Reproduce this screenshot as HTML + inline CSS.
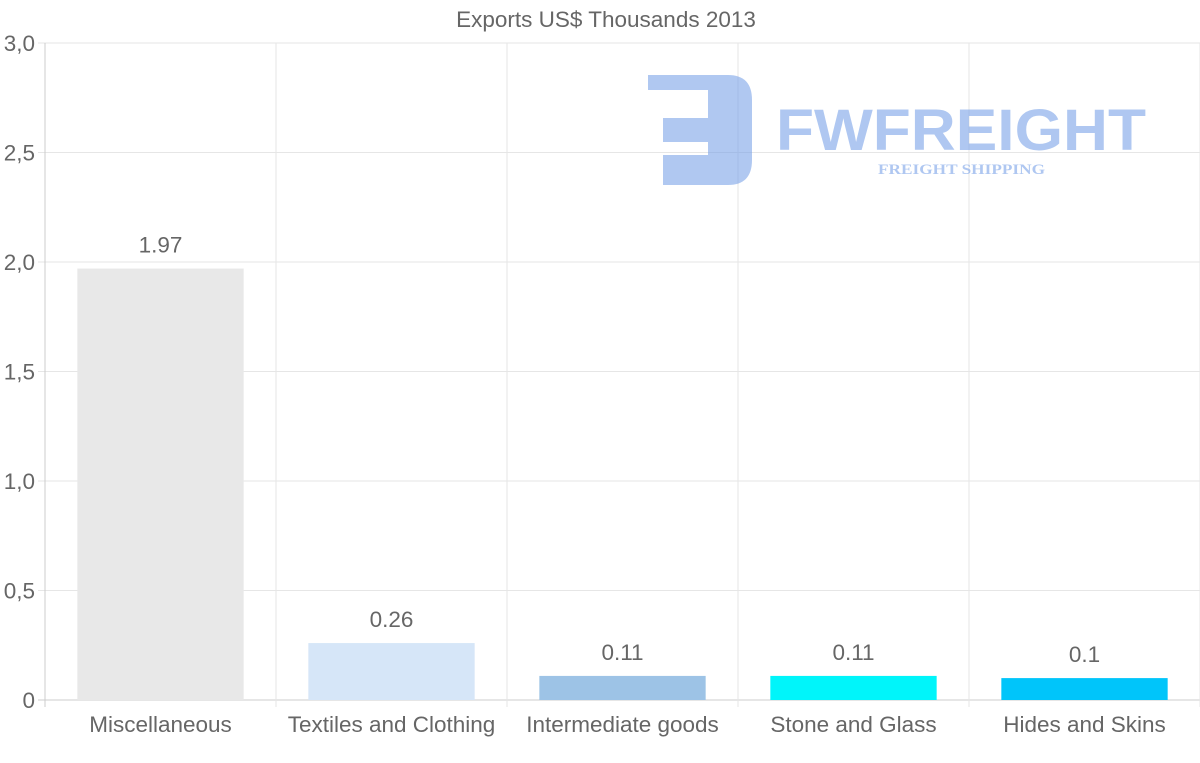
<!DOCTYPE html>
<html><head><meta charset="utf-8"><style>
body{margin:0;background:#fff;font-family:"Liberation Sans",sans-serif}
svg{display:block}
</style></head><body>
<svg id="c" width="1200" height="763">
<text x="606" y="27" text-anchor="middle" font-size="22.5" fill="#666">Exports US$ Thousands 2013</text>
<g id="grid"></g>
<g id="logo" opacity="0.55">
<path d="M648 75 H728 Q752 75 752 100 V160 Q752 185 728 185 H663 V155 H708 V142 H663 V118 H708 V90 H648 Z" fill="#6f9be6"/>
<text x="776" y="150" font-size="58" font-weight="bold" fill="#6f9be6" textLength="370" lengthAdjust="spacingAndGlyphs">FWFREIGHT</text>
<text x="878" y="174" font-size="15" font-weight="bold" font-family="Liberation Serif,serif" fill="#6f9be6" textLength="167" lengthAdjust="spacingAndGlyphs">FREIGHT SHIPPING</text>
</g>
<g id="bars"></g>
</svg>
<script>
const categories=["Miscellaneous","Textiles and Clothing","Intermediate goods","Stone and Glass","Hides and Skins"];
const values=[1.97,0.26,0.11,0.11,0.1];
const valueLabels=["1.97","0.26","0.11","0.11","0.1"];
const colors=["#e8e8e8","#d6e6f8","#9dc3e6","#00f5fa","#00c5fa"];
const yTicks=[0,0.5,1,1.5,2,2.5,3];
const yTickLabels=["0","0,5","1,0","1,5","2,0","2,5","3,0"];
const NS="http://www.w3.org/2000/svg";
const L=45,R=1200,T=43,B=700,yMax=3;
const y=v=>B-(v/yMax)*(B-T);
const bw=(R-L)/categories.length;
const x=i=>L+i*bw;
function mk(tag,a,p){const e=document.createElementNS(NS,tag);for(const k in a)e.setAttribute(k,a[k]);p.appendChild(e);return e;}
const g=document.getElementById('grid'),bg=document.getElementById('bars');
yTicks.forEach((t,i)=>{
 const ln=mk('line',{x1:L-7,x2:R,y1:y(t),y2:y(t),stroke:t===0?'#ccc':'#e6e6e6','stroke-width':1},g);
 
 
 const tx=mk('text',{x:L-10,y:y(t)+8,'text-anchor':'end','font-size':22.5,fill:'#666'},g);
 tx.textContent=yTickLabels[i];
 
 
});
for(let i=0;i<=categories.length;i++){
 const ln=mk('line',{x1:x(i),x2:x(i),y1:T,y2:B+7,stroke:i===0?'#ccc':'#e6e6e6','stroke-width':1},g);
 
 
}
categories.forEach((c,i)=>{
 const w=bw*0.72,bx=x(i)+(bw-w)/2;
 const r=mk('rect',{x:bx,y:y(values[i]),width:w,height:B-y(values[i]),fill:colors[i]},bg);
 
 
 const v=mk('text',{x:x(i)+bw/2,y:y(values[i])-16,'text-anchor':'middle','font-size':22.5,fill:'#666'},bg);
 v.textContent=valueLabels[i];
 
 
 const xl=mk('text',{x:x(i)+bw/2,y:732,'text-anchor':'middle','font-size':22.5,fill:'#666'},bg);
 xl.textContent=c;
 
 
});
</script>
</body></html>
